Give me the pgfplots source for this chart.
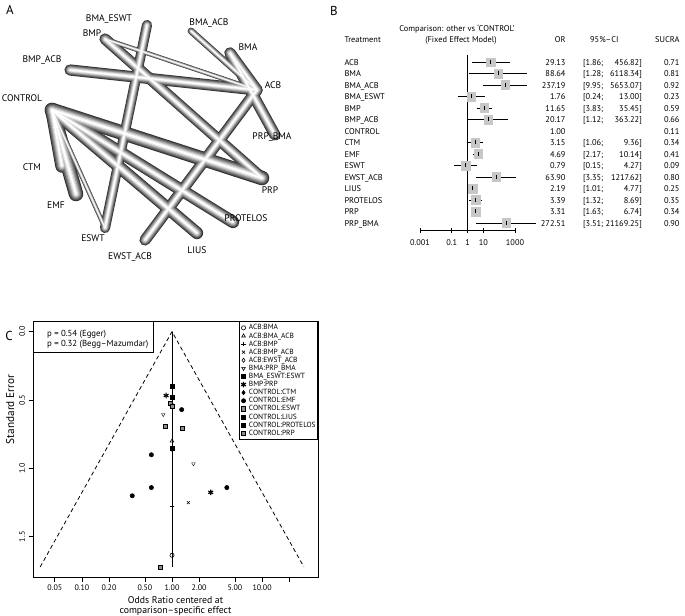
\documentclass[border=0pt]{standalone}
\usepackage{pgfplots}
\pgfplotsset{compat=1.18}
\usepackage{fontspec}
\setmainfont{PT Sans}
\newcommand\fs[1]{\fontsize{#1}{#1}\selectfont}

% one shading layer of the network: #1 width factor, #2 colour
\newcommand\netlayer[2]{%
  \addplot[draw=#2, line width=#1*10bp] coordinates {(257,90) (230,53)};   % ACB-BMA
  \addplot[draw=#2, line width=#1*6bp]  coordinates {(257,90) (191,31)};   % ACB-BMA_ACB
  \addplot[draw=#2, line width=#1*4bp]  coordinates {(257,90) (105,39)};   % ACB-BMP
  \addplot[draw=#2, line width=#1*10bp] coordinates {(257,90) (70,70)};    % ACB-BMP_ACB
  \addplot[draw=#2, line width=#1*10bp] coordinates {(257,90) (145,240)};  % ACB-EWST_ACB
  \addplot[draw=#2, line width=#1*10bp] coordinates {(230,53) (275,135)};  % BMA-PRP_BMA
  \addplot[draw=#2, line width=#1*9bp]  coordinates {(147,25) (105,228)};  % BMA_ESWT-ESWT
  \addplot[draw=#2, line width=#1*10bp] coordinates {(105,39) (262,178)};  % BMP-PRP
  \addplot[draw=#2, line width=#1*12bp] coordinates {(52,110) (62,166)};   % CONTROL-CTM
  \addplot[draw=#2, line width=#1*13bp] coordinates {(52,110) (76,194)};   % CONTROL-EMF
  \addplot[draw=#2, line width=#1*4bp]  coordinates {(52,110) (105,228)};  % CONTROL-ESWT
  \addplot[draw=#2, line width=#1*11bp] coordinates {(52,110) (197,233)};  % CONTROL-LIUS
  \addplot[draw=#2, line width=#1*11bp] coordinates {(52,110) (233,222)};  % CONTROL-PROTELOS
  \addplot[draw=#2, line width=#1*13bp] coordinates {(52,110) (262,178)};  % CONTROL-PRP
}
\newcommand\ci[3]{\addplot[black, line width=0.8bp] coordinates {(#2,-#1) (#3,-#1)};}

\begin{document}
\begin{tikzpicture}
\useasboundingbox (0,0) rectangle (685bp,-616bp);

% ---------- A: network ----------
\begin{axis}[at={(0,0)}, anchor=north west, scale only axis,
  width=685bp, height=616bp, xmin=0, xmax=685, ymin=0, ymax=616,
  y dir=reverse, hide axis, clip=false,
  every axis plot/.append style={line cap=round}]
  \netlayer{1.12}{black!80}
  \netlayer{0.96}{black!66}
  \netlayer{0.8}{black!52}
  \netlayer{0.64}{black!38}
  \netlayer{0.48}{black!24}
  \netlayer{0.32}{black!10}
  \netlayer{0.14}{white}
\end{axis}

% ---------- B: forest plot ----------
\begin{axis}[at={(420bp,-50.5bp)}, anchor=north west, scale only axis,
  width=95bp, height=179.5bp,
  xmode=log, xmin=0.001, xmax=1000, ymin=-15.61, ymax=0, clip=false,
  axis x line=bottom, axis y line=none,
  axis line style={-, line width=0.8bp},
  xtick={0.001,0.1,1,10,1000}, xticklabels={0.001,0.1,1,10,1000},
  xminorticks=false, tick align=center, major tick length=5bp,
  tick style={black, line width=0.8bp},
  xticklabel style={font=\fs{8.3}, yshift=-3.5bp},
  /pgf/number format/assume math mode=true]
  \addplot[only marks, mark=square*, mark size=4.3bp,
    mark options={draw=black!22, fill=black!22}] coordinates {
    (29.13,-1) (88.64,-2) (237.19,-3) (1.76,-4) (11.65,-5) (20.17,-6)
    (3.15,-8) (4.69,-9) (0.79,-10) (63.90,-11) (2.19,-12) (3.39,-13)
    (3.31,-14) (272.51,-15)};
  \addplot[black, line width=0.8bp] coordinates {(1,-0.39) (1,-15.61)};
  \ci{1}{1.86}{456.82}
  \ci{2}{1.28}{6118.34}
  \ci{3}{9.95}{5653.07}
  \ci{4}{0.24}{13.00}
  \ci{5}{3.83}{35.45}
  \ci{6}{1.12}{363.22}
  \ci{8}{1.06}{9.36}
  \ci{9}{2.17}{10.14}
  \ci{10}{0.15}{4.27}
  \ci{11}{3.35}{1217.62}
  \ci{12}{1.01}{4.77}
  \ci{13}{1.32}{8.69}
  \ci{14}{1.63}{6.74}
  \ci{15}{3.51}{21169.25}
  \addplot[only marks, mark=|, mark size=2bp, mark options={line width=0.8bp}] coordinates {
    (29.13,-1) (88.64,-2) (237.19,-3) (1.76,-4) (11.65,-5) (20.17,-6)
    (3.15,-8) (4.69,-9) (0.79,-10) (63.90,-11) (2.19,-12) (3.39,-13)
    (3.31,-14) (272.51,-15)};
\end{axis}

% ---------- C: funnel plot ----------
\begin{axis}[at={(33bp,-321bp)}, anchor=north west, scale only axis,
  width=285bp, height=256bp,
  xmode=log, xmin=0.0286, xmax=41.8, ymin=-1.794, ymax=0.078, clip=false,
  axis line style={line width=0.8bp}, tick style={black, line width=0.8bp},
  xtick={0.05,0.1,0.2,0.5,1,2,5,10,20},
  xticklabels={0.05,0.10,0.20,0.50,1.00,2.00,5.00,10.00,{}},
  ytick={0,-0.5,-1,-1.5}, yticklabels={0.0,0.5,1.0,1.5},
  xtick pos=left, ytick pos=left, tick align=outside, major tick length=4.5bp,
  xminorticks=false,
  ticklabel style={font=\fs{8}}, yticklabel style={rotate=90, anchor=south},
  xlabel={Odds Ratio centered at\\comparison--specific effect},
  xlabel style={font=\fs{9.8}, align=center, yshift=1bp},
  ylabel={Standard Error},
  ylabel style={font=\fs{11.3}, at={(axis description cs:-0.08,0.655)}, anchor=center},
  /pgf/number format/assume math mode=true,
  legend style={at={(axis description cs:1,1)}, anchor=north east, draw=black,
    line width=0.6bp, font=\fs{7.5}, inner xsep=1.5bp, inner ysep=2.5bp,
    nodes={inner sep=0.5bp, text height=5.6bp, text depth=1.5bp},
    /tikz/every odd column/.append style={column sep=2.5bp}},
  legend cell align=left,
  legend image code/.code={\draw[mark repeat=2,mark phase=2,#1] plot coordinates {(0bp,0bp) (2.5bp,0bp) (5bp,0bp)};},
  every axis plot/.append style={only marks, black, mark size=2.1bp,
    mark options={solid, line width=0.6bp}}]
  \addplot[forget plot, no marks, sharp plot, dash pattern=on 4bp off 3bp, line width=0.8bp]
    coordinates {(0.0344,-1.72) (1,0) (29.1,-1.72)};
  \addplot[forget plot, no marks, sharp plot, line width=0.8bp]
    coordinates {(1,0) (1,-1.72)};
  \addplot[mark=o] coordinates {(1,-1.635)};
  \addlegendentry{ACB:BMA}
  \addplot[mark=triangle] coordinates {(1,-0.80)};
  \addlegendentry{ACB:BMA\_ACB}
  \addplot[mark=+] coordinates {(1,-1.28)};
  \addlegendentry{ACB:BMP}
  \addplot[mark=x] coordinates {(1.52,-1.25)};
  \addlegendentry{ACB:BMP\_ACB}
  \addplot[mark=diamond] coordinates {(1,-0.535)};
  \addlegendentry{ACB:EWST\_ACB}
  \addplot[mark=triangle, mark options={rotate=180}] coordinates {(0.80,-0.606) (1.73,-0.966)};
  \addlegendentry{BMA:PRP\_BMA}
  \addplot[mark=square*] coordinates {(1,-0.85)};
  \addlegendentry{BMA\_ESWT:ESWT}
  \addplot[mark=asterisk, mark size=2.8bp, mark options={line width=1.1bp}] coordinates {(0.86,-0.467) (2.69,-1.175)};
  \addlegendentry{BMP:PRP}
  \addplot[mark=diamond*] coordinates {(1,-0.86)};
  \addlegendentry{CONTROL:CTM}
  \addplot[mark=*] coordinates {(0.59,-0.90) (0.59,-1.14) (0.362,-1.20) (4.06,-1.14) (1.28,-0.57) (1,-0.54)};
  \addlegendentry{CONTROL:EMF}
  \addplot[mark=square*, mark options={fill=black!45}] coordinates {(0.836,-0.693) (1.31,-0.703)};
  \addlegendentry{CONTROL:ESWT}
  \addplot[mark=square*] coordinates {(1,-0.40)};
  \addlegendentry{CONTROL:LIUS}
  \addplot[mark=square*] coordinates {(1,-0.48)};
  \addlegendentry{CONTROL:PROTELOS}
  \addplot[mark=square*, mark options={fill=black!45}] coordinates {(0.735,-1.72) (0.96,-0.525) (1,-0.545)};
  \addlegendentry{CONTROL:PRP}
\end{axis}

% ---------- texts ----------
\begin{scope}[x=1bp, y=-1bp]
  \node[font=\fs{13}] at (10,10) {A};
  \node[font=\fs{13}] at (334,11) {B};
  \node[font=\fs{13}] at (9,336) {C};
  \begin{scope}[font=\fs{9.6}]
    \node at (109,19) {BMA\_ESWT};
    \node at (92,33) {BMP};
    \node at (209,23) {BMA\_ACB};
    \node at (248,47) {BMA};
    \node at (42,60) {BMP\_ACB};
    \node at (273,85) {ACB};
    \node at (22,98) {CONTROL};
    \node at (272,137) {PRP\_BMA};
    \node at (32,167) {CTM};
    \node at (270,190) {PRP};
    \node at (56,205) {EMF};
    \node at (246,218) {PROTELOS};
    \node at (93,238) {ESWT};
    \node at (197,250) {LIUS};
    \node at (130,257) {EWST\_ACB};
  \end{scope}
  \begin{scope}[font=\fs{8.4}]
    \node[anchor=base] at (457,31) {Comparison: other vs `CONTROL'};
    \node[anchor=base] at (461,42) {(Fixed Effect Model)};
    \node[anchor=base west] at (341,42) {Treatment};
    \node[anchor=base east] at (569,42) {OR};
    \node[anchor=base east] at (622,42) {95\%--CI};
    \node[anchor=base east] at (683,42) {SUCRA};
    \foreach \k/\nm/\orv/\lo/\hi/\su in {
      1/ACB/29.13/1.86/456.82/0.71,
      2/BMA/88.64/1.28/6118.34/0.81,
      3/BMA\_ACB/237.19/9.95/5653.07/0.92,
      4/BMA\_ESWT/1.76/0.24/13.00/0.23,
      5/BMP/11.65/3.83/35.45/0.59,
      6/BMP\_ACB/20.17/1.12/363.22/0.66,
      8/CTM/3.15/1.06/9.36/0.34,
      9/EMF/4.69/2.17/10.14/0.41,
      10/ESWT/0.79/0.15/4.27/0.09,
      11/EWST\_ACB/63.90/3.35/1217.62/0.80,
      12/LIUS/2.19/1.01/4.77/0.25,
      13/PROTELOS/3.39/1.32/8.69/0.35,
      14/PRP/3.31/1.63/6.74/0.34,
      15/PRP\_BMA/272.51/3.51/21169.25/0.90}{
      \node[anchor=base west] at (341,{65+11.5*(\k-1)}) {\nm};
      \node[anchor=base east] at (569,{65+11.5*(\k-1)}) {\orv};
      \node[anchor=base west, inner xsep=0pt] at (583,{65+11.5*(\k-1)}) {[\lo;};
      \node[anchor=base east, inner xsep=0pt] at (642,{65+11.5*(\k-1)}) {\hi]};
      \node[anchor=base east] at (683,{65+11.5*(\k-1)}) {\su};
    }
    \node[anchor=base west] at (341,134) {CONTROL};
    \node[anchor=base east] at (569,134) {1.00};
    \node[anchor=base east] at (683,134) {0.11};
  \end{scope}
  \draw[line width=0.8bp] (33,321) rectangle (153,352);
  \node[anchor=base west, font=\fs{8.8}, inner xsep=0pt] at (47,336) {p = 0.54 (Egger)};
  \node[anchor=base west, font=\fs{8.8}, inner xsep=0pt] at (47,346) {p = 0.32 (Begg--Mazumdar)};
\end{scope}
\end{tikzpicture}
\end{document}
